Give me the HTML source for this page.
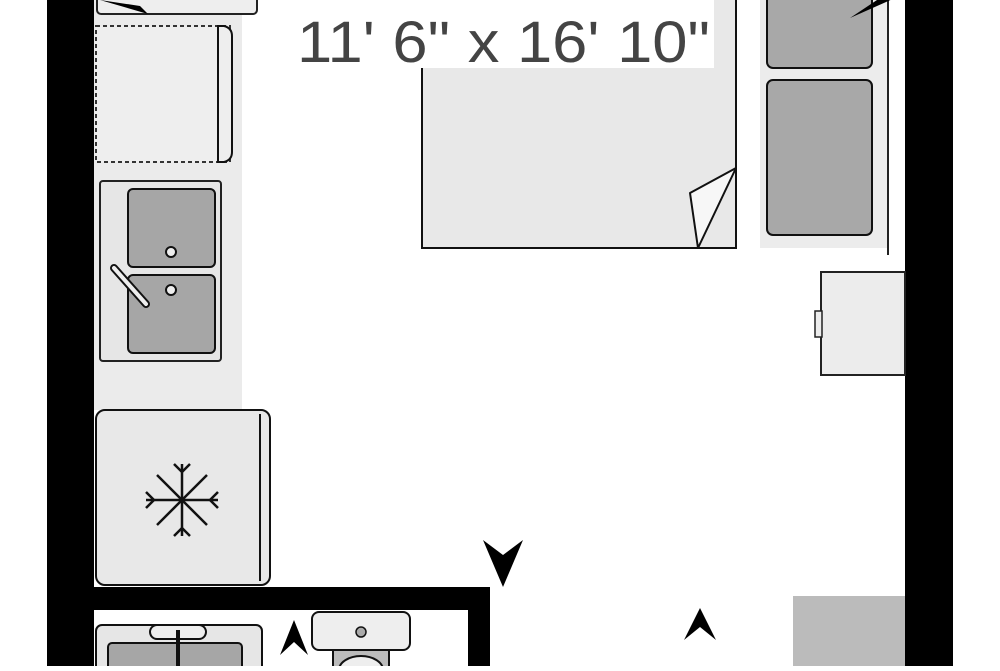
<!DOCTYPE html>
<html><head><style>
body{margin:0;width:1000px;height:666px;overflow:hidden;background:#fff}
</style></head><body>
<svg width="1000" height="666" viewBox="0 0 1000 666" xmlns="http://www.w3.org/2000/svg">
<rect x="94" y="0" width="148" height="410" fill="#ebebeb"/>
<!-- walls -->
<rect x="47" y="0" width="47" height="666" fill="#000"/>
<rect x="905" y="0" width="48" height="666" fill="#000"/>
<rect x="94" y="587" width="396" height="23" fill="#000"/>
<rect x="468" y="587" width="22" height="79" fill="#000"/>
<!-- top counter item -->
<rect x="97" y="-10" width="160" height="24" rx="4" fill="#eee" stroke="#222" stroke-width="2"/>
<path d="M100 0 L148 14 L140 6 Z" fill="#000"/>
<!-- dashed box -->
<rect x="96" y="26" width="134" height="136" fill="#eee" stroke="#333" stroke-width="2" stroke-dasharray="4,3"/>
<path d="M218 26 H224 Q232 28 232 36 V152 Q232 160 224 162 H218 Z" fill="#eee" stroke="#111" stroke-width="2"/>
<!-- sink cabinet -->
<rect x="100" y="181" width="121" height="180" rx="3" fill="#e6e6e6" stroke="#222" stroke-width="2"/>
<rect x="128" y="189" width="87" height="78" rx="5" fill="#a6a6a6" stroke="#111" stroke-width="2"/>
<rect x="128" y="275" width="87" height="78" rx="5" fill="#a6a6a6" stroke="#111" stroke-width="2"/>
<circle cx="171" cy="252" r="5" fill="#eee" stroke="#111" stroke-width="2"/>
<circle cx="171" cy="290" r="5" fill="#eee" stroke="#111" stroke-width="2"/>
<line x1="114" y1="268" x2="146" y2="304" stroke="#111" stroke-width="8" stroke-linecap="round"/>
<line x1="114" y1="268" x2="146" y2="304" stroke="#eee" stroke-width="4" stroke-linecap="round"/>
<!-- fridge -->
<rect x="96" y="410" width="174" height="175" rx="9" fill="#e8e8e8" stroke="#111" stroke-width="2"/>
<line x1="260" y1="414" x2="260" y2="581" stroke="#111" stroke-width="2"/>
<g stroke="#111" stroke-width="2.5" fill="none">
<line x1="182" y1="464" x2="182" y2="536"/>
<line x1="146" y1="500" x2="218" y2="500"/>
<line x1="157" y1="475" x2="207" y2="525"/>
<line x1="207" y1="475" x2="157" y2="525"/>
<path d="M174 464 L182 472 L190 464 M174 536 L182 528 L190 536 M146 492 L154 500 L146 508 M218 492 L210 500 L218 508"/>
</g>
<!-- bed -->
<rect x="760" y="0" width="128" height="248" fill="#ececec"/>
<line x1="888" y1="0" x2="888" y2="255" stroke="#222" stroke-width="2"/>
<rect x="422" y="-5" width="314" height="253" fill="#e8e8e8" stroke="#111" stroke-width="2"/>
<rect x="767" y="-10" width="105" height="78" rx="6" fill="#a8a8a8" stroke="#111" stroke-width="2"/>
<rect x="767" y="80" width="105" height="155" rx="6" fill="#a8a8a8" stroke="#111" stroke-width="2"/>
<path d="M850 18 L895 -2 L880 -2 Z" fill="#000"/>
<path d="M736 168 L690 193 L698 248 Z" fill="#f7f7f7" stroke="#111" stroke-width="2" stroke-linejoin="round"/>
<!-- text -->
<rect x="288" y="0" width="426" height="68" fill="#fff"/>
<text x="297" y="62" textLength="413" lengthAdjust="spacingAndGlyphs" font-family="Liberation Sans, sans-serif" font-size="58" fill="#444">11' 6" x 16' 10"</text>
<!-- desk -->
<rect x="821" y="272" width="84" height="103" fill="#ececec" stroke="#222" stroke-width="2"/>
<rect x="815" y="311" width="7" height="26" fill="#ececec" stroke="#222" stroke-width="1.5"/>
<!-- arrows -->
<path d="M483 540 L503 555 L523 540 L503 587 Z" fill="#000"/>
<path d="M684 640 L700 627 L716 640 L700 608 Z" fill="#000"/>
<path d="M280 655 L294 642 L308 655 L294 620 Z" fill="#000"/>
<rect x="793" y="596" width="112" height="70" fill="#bbb"/>
<!-- bathroom -->
<rect x="96" y="625" width="166" height="60" rx="6" fill="#e6e6e6" stroke="#111" stroke-width="2"/>
<rect x="108" y="643" width="134" height="40" rx="4" fill="#a6a6a6" stroke="#111" stroke-width="2"/>
<rect x="150" y="625" width="56" height="14" rx="7" fill="#eee" stroke="#111" stroke-width="2"/>
<line x1="178" y1="630" x2="178" y2="666" stroke="#111" stroke-width="4"/>
<rect x="312" y="612" width="98" height="38" rx="7" fill="#eee" stroke="#111" stroke-width="2"/>
<circle cx="361" cy="632" r="5" fill="#aaa" stroke="#111" stroke-width="1.5"/>
<rect x="333" y="650" width="56" height="20" fill="#bbb" stroke="#111" stroke-width="2"/>
<ellipse cx="361" cy="670" rx="22" ry="14" fill="#eee" stroke="#111" stroke-width="2"/>
</svg>
</body></html>
